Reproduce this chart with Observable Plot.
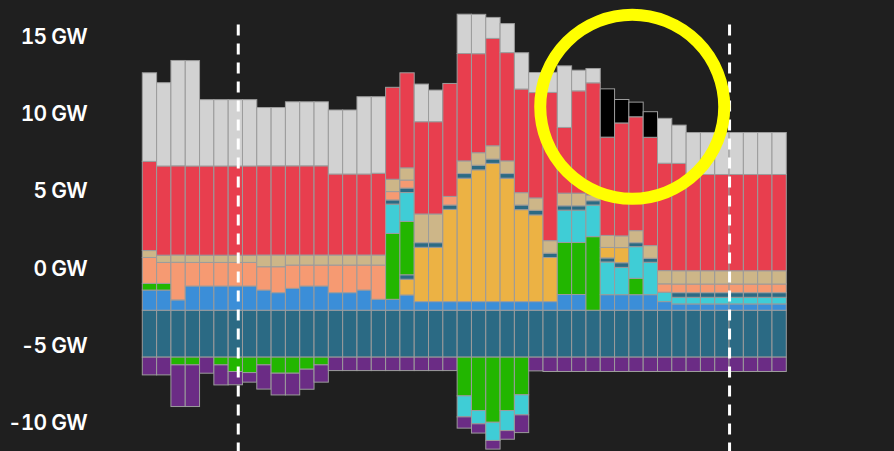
<!DOCTYPE html>
<html>
<head>
<meta charset="utf-8">
<script src="https://cdn.jsdelivr.net/npm/d3@7"></script>
<script src="https://cdn.jsdelivr.net/npm/@observablehq/plot@0.6"></script>
<style>
  html, body { margin: 0; padding: 0; background: #1f1f1f; }
  #chart svg { display: block; }
  #chart text { font-weight: 600; letter-spacing: -0.8px; }
</style>
</head>
<body>
<div id="chart"></div>
<script>
// ---- Data (GW), one value per bar (45 bars) ----
const bars = [0,1,2,3,4,5,6,7,8,9,10,11,12,13,14,15,16,17,18,19,20,21,22,23,24,25,26,27,28,29,30,31,32,33,34,35,36,37,38,39,40,41,42,43,44];
const stackBase = -5.76;

// upward stack (from bottom to top)
const teal    = [3.04,3.04,3.04,3.04,3.04,3.04,3.04,3.04,3.04,3.04,3.04,3.04,3.04,3.04,3.04,3.04,3.04,3.04,3.04,3.04,3.04,3.04,3.04,3.04,3.04,3.04,3.04,3.04,3.04,3.04,3.04,3.04,3.04,3.04,3.04,3.04,3.04,3.04,3.04,3.04,3.04,3.04,3.04,3.04,3.04];
const blue    = [1.31,1.31,0.67,1.57,1.57,1.57,1.57,1.57,1.31,1.14,1.42,1.57,1.57,1.14,1.14,1.31,0.71,0.71,0.99,0.56,0.56,0.56,0.56,0.56,0.56,0.56,0.56,0.56,0.56,1.02,1.02,0,1.01,1.01,1.01,1.01,0.56,0.41,0.41,0.41,0.41,0.41,0.41,0.41,0.41];
const solar   = [0,0,0,0,0,0,0,0,0,0,0,0,0,0,0,0,0,0,1.02,3.52,3.52,5.98,8.0,8.54,8.96,8.0,5.96,5.62,2.86,0,0,0,0,0,0,0,0,0,0,0,0,0,0,0,0];
const markA   = [0,0,0,0,0,0,0,0,0,0,0,0,0,0,0,0,0,0,0.29,0.30,0.30,0.28,0.30,0.30,0.28,0.30,0.30,0.30,0.28,0,0,0,0,0,0,0,0,0,0,0,0,0,0,0,0];
const green   = [0.43,0.43,0,0,0,0,0,0,0,0,0,0,0,0,0,0,0,4.27,3.46,0,0,0,0,0,0,0,0,0,0,3.37,3.37,4.77,0,0,1.06,0,0,0,0,0,0,0,0,0,0];
const cyan    = [0,0,0,0,0,0,0,0,0,0,0,0,0,0,0,0,0,1.90,1.87,0,0,0,0,0,0,0,0,0,0,2.10,2.10,2.05,2.12,1.77,2.05,2.10,0.61,0.43,0.43,0.43,0.43,0.43,0.43,0.43,0.43];
const markB   = [0,0,0,0,0,0,0,0,0,0,0,0,0,0,0,0,0,0.27,0.29,0,0,0,0,0,0,0,0,0,0,0.28,0.28,0.28,0.26,0.30,0.26,0.26,0,0.30,0.30,0.30,0.30,0.30,0.30,0.30,0.30];
const solarLate = [0,0,0,0,0,0,0,0,0,0,0,0,0,0,0,0,0,0,0,0,0,0,0,0,0,0,0,0,0,0,0,0,0.68,0.98,0,0,0,0,0,0,0,0,0,0,0];
const salmon  = [1.68,1.36,2.44,1.53,1.53,1.53,1.53,1.53,1.51,1.68,1.51,1.36,1.36,1.79,1.79,1.62,2.22,0.54,0.52,0,0,0.56,0,0,0,0,0,0,0,0,0,0,0,0,0,0,0.54,0.56,0.56,0.56,0.56,0.56,0.56,0.56,0.56];
const tan     = [0.45,0.47,0.47,0.47,0.47,0.47,0.47,0.47,0.76,0.76,0.65,0.65,0.65,0.65,0.65,0.65,0.65,0.80,0.79,1.86,1.86,0,0.82,0.81,0.86,0.82,0.80,0.80,0.81,0.82,0.82,0.37,0.78,0.76,0.78,0.82,0.86,0.86,0.86,0.86,0.86,0.86,0.86,0.86,0.86];
const red     = [5.78,5.78,5.78,5.78,5.78,5.78,5.78,5.78,5.78,5.78,5.78,5.78,5.78,5.25,5.25,5.25,5.30,5.96,6.16,5.98,5.98,7.32,6.96,6.42,6.96,7.02,6.72,6.83,9.61,4.26,6.63,7.27,6.37,7.32,7.38,7.02,6.96,6.96,6.24,6.24,6.24,6.24,6.24,6.24,6.24];
const black   = [0,0,0,0,0,0,0,0,0,0,0,0,0,0,0,0,0,0,0,0,0,0,0,0,0,0,0,0,0,0,0,0,3.13,1.52,0.95,1.66,0,0,0,0,0,0,0,0,0];
const gray    = [5.74,5.40,6.83,6.83,4.30,4.30,4.30,4.30,3.78,3.78,4.15,4.15,4.15,4.15,4.15,5.01,4.96,0,0,2.44,2.05,0,2.55,2.55,1.36,1.88,2.35,1.30,1.30,3.99,1.34,0.93,0,0,0,0,2.91,2.48,2.72,2.72,2.72,2.72,2.72,2.72,2.72];

// downward stack (from stackBase going down)
const greenDown = [0,0,0.50,0.50,0,0.50,0.93,1.00,0.50,1.04,1.04,0.78,0.50,0,0,0,0,0,0,0,0,0,2.51,3.46,4.22,3.46,2.44,0,0,0,0,0,0,0,0,0,0,0,0,0,0,0,0,0,0];
const cyanDown  = [0,0,0,0,0,0,0,0,0,0,0,0,0,0,0,0,0,0,0,0,0,0,1.36,0.86,1.18,1.30,1.30,0,0,0,0,0,0,0,0,0,0,0,0,0,0,0,0,0,0];
const purple    = [1.15,1.15,2.70,2.70,1.04,1.30,0.86,0.62,1.57,1.41,1.41,1.30,1.12,0.87,0.87,0.87,0.87,0.87,0.87,0.87,0.87,0.87,0.73,0.60,0.56,0.56,1.15,0.89,0.93,0.93,0.93,0.93,0.93,0.93,0.93,0.93,0.93,0.93,0.93,0.93,0.93,0.93,0.93,0.93,0.93];

const upSeries   = [["teal", teal], ["blue", blue], ["solar", solar], ["markA", markA], ["green", green], ["cyan", cyan], ["markB", markB], ["solarLate", solarLate], ["salmon", salmon], ["tan", tan], ["red", red], ["black", black], ["gray", gray]];
const downSeries = [["greenDown", greenDown], ["cyanDown", cyanDown], ["purple", purple]];

const seriesNames  = ["teal","blue","solar","markA","green","cyan","markB","solarLate","salmon","tan","red","black","gray","greenDown","cyanDown","purple"];
const seriesColors = ["#2b6a84","#3b8ed8","#ecb244","#2b6a84","#22b600","#3fcdd6","#2b6a84","#ecb244","#f69a72","#cdb688","#e83e4e","#000000","#d2d2d2","#22b600","#3fcdd6","#6b2c85"];

const yTicks = [-10, -5, 0, 5, 10, 15];
const dividers = [6.67, 41];
const highlight = [{x: 34.2, y: 10.5}];

// ---- Build stacked segments ----
const segments = [];
for (const i of bars) {
  let top = stackBase;
  for (const [name, vals] of upSeries) {
    const v = vals[i];
    if (v > 0) segments.push({i, series: name, y1: top, y2: top + v});
    top += v;
  }
  let bottom = stackBase;
  for (const [name, vals] of downSeries) {
    const v = vals[i];
    if (v > 0) segments.push({i, series: name, y1: bottom - v, y2: bottom});
    bottom -= v;
  }
}

const chart = Plot.plot({
  width: 894,
  height: 451,
  marginLeft: 142.3,
  marginRight: 107.7,
  marginTop: 6,
  marginBottom: 13,
  style: {background: "#1f1f1f", color: "white", fontFamily: "Inter, 'Open Sans', sans-serif", fontSize: "21px"},
  x: {domain: [0, 45], axis: null},
  y: {domain: [-11, 17], ticks: yTicks, tickSize: 0, tickPadding: 56, tickFormat: d => `${d} GW`, label: null},
  color: {domain: seriesNames, range: seriesColors},
  marks: [
    Plot.rect(segments, {x1: d => d.i, x2: d => d.i + 1, y1: "y1", y2: "y2", fill: "series", stroke: "#9c9c9c", strokeWidth: 1}),
    Plot.ruleX(dividers, {y1: -12, y2: 15.9, stroke: "white", strokeWidth: 3, strokeDasharray: "11,8"}),
    Plot.dot(highlight, {x: "x", y: "y", r: 92, stroke: "#ffff00", strokeWidth: 12, fill: "none"})
  ]
});
document.getElementById("chart").appendChild(chart);
</script>
</body>
</html>
